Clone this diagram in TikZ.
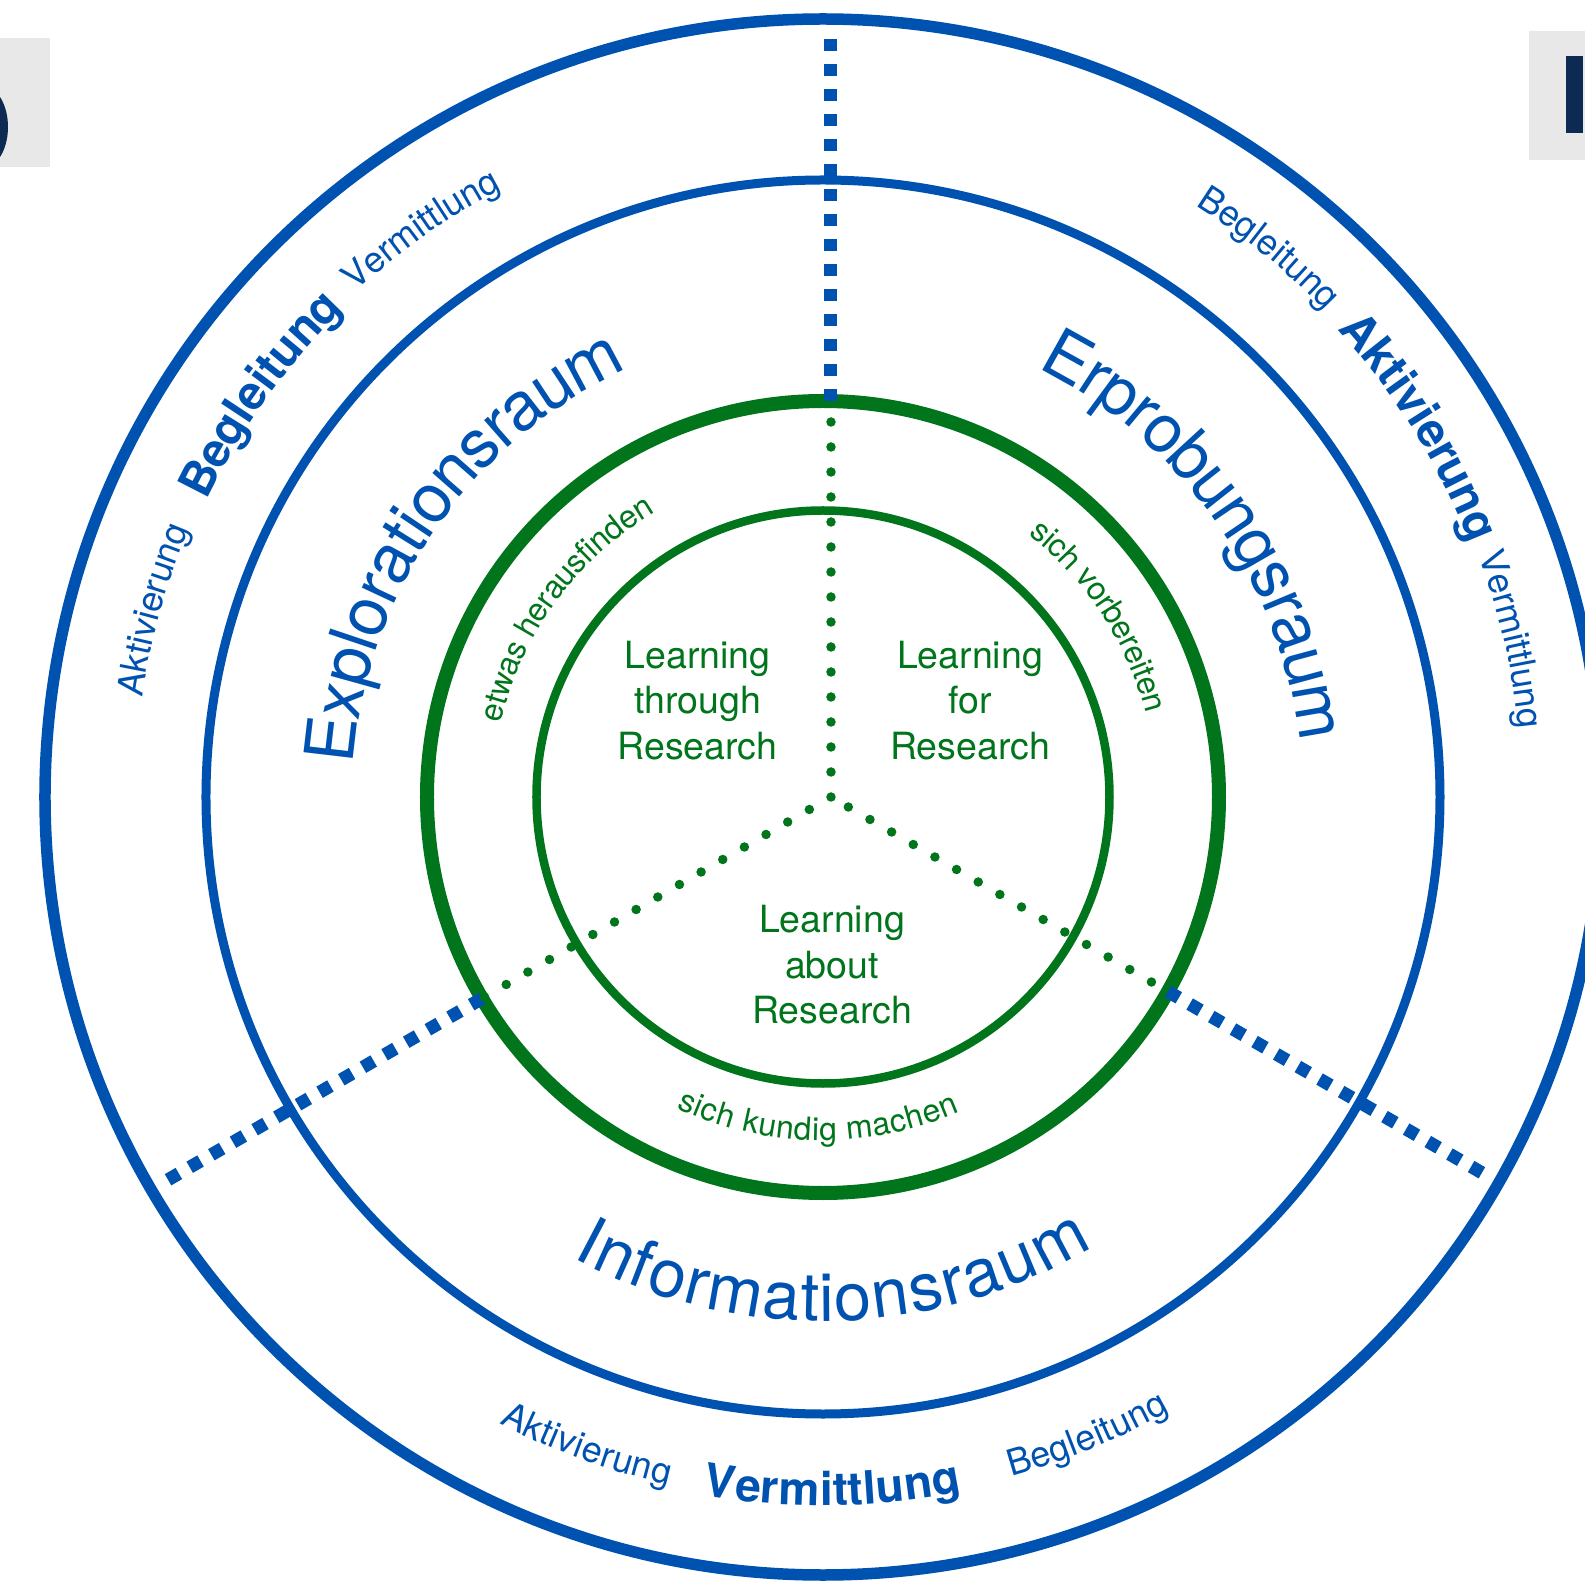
\documentclass[tikz,border=0pt]{standalone}
\usepackage{fontspec}
\setmainfont{TeX Gyre Heros}
\usetikzlibrary{decorations.text}
\definecolor{rblue}{RGB}{0,82,176}
\definecolor{rgreen}{RGB}{0,117,27}
\definecolor{navy}{RGB}{12,42,82}
\definecolor{boxgray}{RGB}{232,232,232}
% #1 direction (1 = clockwise, -1 = counterclockwise), #2 mid radius, #3 centre angle,
% #4 half span, #5 colour, #6 font size, #7 extra format, #8 text
\newcommand\arctxt[8]{%
  \pgfmathsetmacro\arcSa{#3+#1*#4}%
  \pgfmathsetmacro\arcEa{#3-#1*#4}%
  \pgfmathsetmacro\arcRs{-0.36*#6}%
  \path[decorate, decoration={text along path, text align=center,
      raise=\arcRs pt, text color=#5,
      text={|\fontsize{#6}{#6}\selectfont#7|#8}}]
    ({\arcSa}:#2) arc[start angle=\arcSa, end angle=\arcEa, radius=#2];}
\begin{document}
\begin{tikzpicture}[x=1pt,y=1pt,
  bluedash/.style={rblue, line width=13pt, dash pattern=on 12.5pt off 12.5pt},
  greendots/.style={rgreen, line width=9.5pt, line cap=round, dash pattern=on 0pt off 25pt},
  learn/.style={rgreen, align=center, font=\fontsize{37.5}{45.5}\selectfont, inner sep=0pt}]
\useasboundingbox (-823,-785) rectangle (762,797);
\fill[white] (-823,-785) rectangle (762,797);
% corner boxes (cut-off fragments)
\fill[boxgray] (-823,630) rectangle (-773,759);
\begin{scope}
  \clip (-823,630) rectangle (-773,759);
  \fill[navy] (-838.6,670) ellipse[x radius=23.6, y radius=40];
\end{scope}
\fill[boxgray] (706,637) rectangle (762,766);
\fill[navy] (743,664) rectangle (760,741);
% rings
\draw[rblue, line width=11.5pt] (0,0) circle[radius=778];
\draw[rblue, line width=9pt] (0,0) circle[radius=617];
\draw[rgreen, line width=14pt] (0,0) circle[radius=396];
\draw[rgreen, line width=8.5pt] (0,0) circle[radius=286.5];
% connector points
\coordinate (P) at (8,0);
\path (P) ++(0,25) coordinate (P1);
\path (P) ++(0,395.9) coordinate (gU);
\path (P) ++(0,764) coordinate (oU);
\path (P) ++(210:403) coordinate (gL);
\path (P) ++(210:771) coordinate (oL);
\path (P) ++(330:20) coordinate (P2);
\path (P) ++(330:389.1) coordinate (gR);
\path (P) ++(330:758) coordinate (oR);
% blue dashed spokes
\draw[bluedash] (gU) -- (oU);
\draw[bluedash] (gL) -- (oL);
\draw[bluedash] (gR) -- (oR);
% green dotted spokes
\draw[greendots] (P1) -- (gU);
\draw[greendots] (P) -- (gL);
\draw[greendots] (P2) -- (gR);
% inner labels
\node[learn] (lt) at (-125.5,96.5) {Learning\\through\\Research};
\node[learn] (lf) at (147,96.5) {Learning\\for\\Research};
\node[learn] (la) at (9,-168) {Learning\\about\\Research};
% curved labels
\arctxt{1}{495}{145.3}{45}{rblue}{68}{}{Explorationsraum}
\arctxt{1}{504}{35}{45}{rblue}{67}{}{Erprobungsraum}
\arctxt{-1}{500}{271.3}{45}{rblue}{67}{}{Informationsraum}
\arctxt{1}{342}{143.8}{50}{rgreen}{32}{}{etwas herausfinden}
\arctxt{1}{345}{33.2}{50}{rgreen}{32}{}{sich vorbereiten}
\arctxt{-1}{332}{269.2}{50}{rgreen}{32}{}{sich kundig machen}
\arctxt{1}{701}{164.4}{15}{rblue}{36}{}{Aktivierung}
\arctxt{1}{701}{144.4}{15}{rblue}{47}{\bfseries}{Begleitung}
\arctxt{1}{701}{125.3}{15}{rblue}{36}{}{Vermittlung}
\arctxt{1}{712}{50.9}{15}{rblue}{36}{}{Begleitung}
\arctxt{1}{712}{31.8}{15}{rblue}{47}{\bfseries}{Aktivierung}
\arctxt{1}{712}{12.9}{15}{rblue}{36}{}{Vermittlung}
\arctxt{-1}{692}{250}{15}{rblue}{36}{}{Aktivierung}
\arctxt{-1}{692}{270.8}{15}{rblue}{46}{\bfseries}{Vermittlung}
\arctxt{-1}{692}{292.5}{15}{rblue}{36}{}{Begleitung}
\end{tikzpicture}
\end{document}
